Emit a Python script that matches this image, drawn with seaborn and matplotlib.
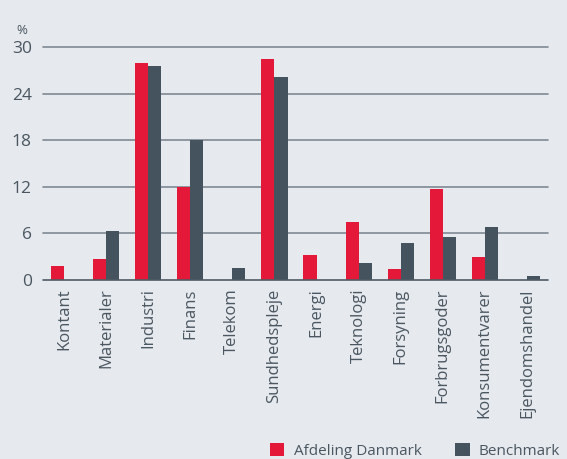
import matplotlib
matplotlib.use("Agg")
import matplotlib.pyplot as plt
import seaborn as sns
import pandas as pd
from matplotlib.patches import Patch

categories = ["Kontant", "Materialer", "Industri", "Finans", "Telekom", "Sundhedspleje",
              "Energi", "Teknologi", "Forsyning", "Forbrugsgoder", "Konsumentvarer", "Ejendomshandel"]
afdeling = [1.8, 2.7, 28.0, 12.0, 0.0, 28.4, 3.2, 7.45, 1.4, 11.7, 2.95, 0.0]
benchmark = [0.0, 6.3, 27.6, 18.0, 1.5, 26.1, 0.0, 2.2, 4.75, 5.5, 6.8, 0.5]
series_names = ["Afdeling Danmark", "Benchmark"]
yticks = [0, 6, 12, 18, 24, 30]

BG = "#e6e9ee"
RED = "#e4193a"
GREY = "#44535e"
TXT = "#4a5660"

sns.set_theme(style="white")
plt.rcParams["font.family"] = ["Open Sans", "DejaVu Sans"]

df = pd.DataFrame({
    "Sektor": categories * 2,
    "Værdi": afdeling + benchmark,
    "Serie": [series_names[0]] * len(categories) + [series_names[1]] * len(categories),
})

fig = plt.figure(figsize=(5.67, 4.59), dpi=100, facecolor=BG)
ax = fig.add_axes([43 / 567, 1 - 280 / 459, (548 - 43) / 567, (280 - 47) / 459])
ax.set_facecolor(BG)

sns.barplot(data=df, x="Sektor", y="Værdi", hue="Serie", order=categories,
            hue_order=series_names, palette=[RED, GREY], width=0.62,
            saturation=1, ax=ax, legend=False, zorder=3)
for p in ax.patches:
    p.set_edgecolor("none")

ax.set_ylim(0, 30)
ax.set_xlim(-0.5, len(categories) - 0.5)
ax.set_yticks(yticks)
ax.set_yticklabels([str(v) for v in yticks], fontsize=12.5, color=TXT)
for v in yticks:
    ax.axhline(v, color="#4e5a64" if v == 0 else "#7f8a92", lw=1.2,
               zorder=4 if v == 0 else 1, clip_on=False)
ax.grid(False)
for s in ax.spines.values():
    s.set_visible(False)
ax.tick_params(axis="both", length=0)
ax.tick_params(axis="y", pad=8)
ax.tick_params(axis="x", pad=6)
ax.set_xticks(range(len(categories)))
ax.set_xticklabels(categories, rotation=90, fontsize=12, color=TXT, va="top")
ax.set_xlabel("")
ax.set_ylabel("")

fig.text(22 / 567, 1 - 31 / 459, "%", fontsize=9.5, color=TXT, ha="center", va="center")

handles = [Patch(facecolor=RED, edgecolor="none"), Patch(facecolor=GREY, edgecolor="none")]
fig.legend(handles, series_names, loc="lower right", bbox_to_anchor=(1.012, -0.03),
           ncol=2, frameon=False, fontsize=11, labelcolor=TXT,
           handlelength=0.95, handleheight=0.95, handletextpad=0.6, columnspacing=2.2)

fig.savefig("out.png", dpi=100, facecolor=BG)
